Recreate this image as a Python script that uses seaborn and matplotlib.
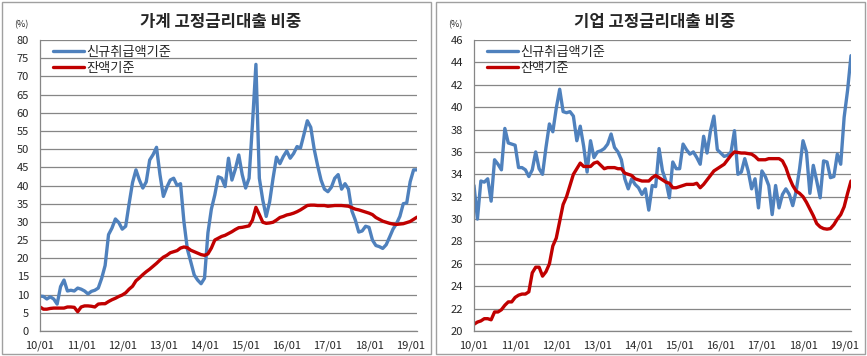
import numpy as np
import pandas as pd
import matplotlib
matplotlib.use('Agg')
import matplotlib.pyplot as plt
import seaborn as sns
from matplotlib.patches import Rectangle

sns.set_style('white')
plt.rcParams['font.family'] = ['Noto Sans CJK KR', 'DejaVu Sans']

# monthly, 2010/01 .. 2019/03
xtick_labels = ['10/01', '11/01', '12/01', '13/01', '14/01', '15/01', '16/01', '17/01', '18/01', '19/01']
new_label = '신규취급액기준'
bal_label = '잔액기준'
titles = ['가계 고정금리대출 비중', '기업 고정금리대출 비중']

hh_new = [9.6, 9.5, 8.8, 9.4, 8.8, 7.4, 12.2, 14.0, 11.0, 11.2, 11.0, 11.8,
          11.5, 11.0, 10.2, 10.9, 11.2, 11.8, 14.5, 18.0, 26.5, 28.3, 30.8, 29.8,
          28.0, 28.8, 35.0, 40.8, 44.3, 41.5, 39.3, 41.0, 47.0, 48.5, 50.5, 43.0,
          37.0, 39.5, 41.5, 42.0, 40.0, 40.5, 30.0, 22.5, 19.0, 15.4, 14.0, 13.0,
          14.5, 27.0, 33.5, 37.4, 42.4, 42.0, 39.7, 47.5, 41.5, 44.5, 48.4, 43.0,
          39.3, 42.0, 57.0, 73.3, 42.0, 36.0, 31.5, 35.5, 42.0, 47.8, 46.0, 48.0,
          49.5, 47.5, 48.8, 50.7, 50.3, 54.0, 57.8, 56.0, 50.0, 45.5, 41.5, 39.0,
          38.3, 39.5, 42.0, 43.0, 39.0, 40.5, 39.0, 33.0, 30.5, 27.2, 27.5, 28.8,
          28.5, 25.0, 23.5, 23.2, 22.7, 23.7, 25.8, 28.0, 29.5, 31.5, 35.0, 35.2,
          41.0, 44.3, 44.3]
hh_bal = [6.6, 6.0, 6.0, 6.2, 6.3, 6.3, 6.3, 6.3, 6.6, 6.6, 6.5, 5.3,
          6.6, 6.9, 6.9, 6.8, 6.6, 7.4, 7.5, 7.5, 8.1, 8.6, 9.0, 9.5,
          9.9, 10.5, 11.5, 12.3, 13.8, 14.6, 15.5, 16.3, 17.0, 17.8, 18.6, 19.5,
          20.3, 20.8, 21.5, 21.8, 22.1, 22.8, 23.1, 22.9, 22.2, 21.8, 21.4, 21.0,
          20.8, 21.2, 22.8, 25.0, 25.5, 26.0, 26.3, 26.8, 27.3, 27.9, 28.4, 28.5,
          28.7, 28.9, 30.5, 34.0, 32.0, 29.9, 29.6, 29.7, 29.9, 30.5, 31.2, 31.5,
          31.9, 32.1, 32.4, 32.8, 33.3, 33.9, 34.5, 34.6, 34.6, 34.5, 34.5, 34.5,
          34.3, 34.4, 34.5, 34.5, 34.5, 34.4, 34.3, 33.9, 33.5, 33.3, 33.0, 32.7,
          32.4, 32.0, 31.2, 30.7, 30.2, 29.9, 29.6, 29.4, 29.3, 29.4, 29.5, 29.8,
          30.1, 30.7, 31.3]
corp_new = [33.0, 30.0, 33.4, 33.3, 33.6, 31.6, 35.3, 34.9, 34.4, 38.1, 36.8, 36.7,
            36.6, 34.6, 34.6, 34.4, 33.8, 34.4, 36.0, 34.5, 34.0, 36.4, 38.5, 37.8,
            39.9, 41.6, 39.6, 39.5, 39.6, 39.2, 37.0, 38.3, 36.5, 34.2, 37.0, 35.5,
            36.0, 36.1, 36.3, 36.7, 37.6, 36.4, 36.0, 35.3, 33.6, 32.7, 33.6, 33.1,
            32.8, 32.2, 32.7, 30.8, 33.0, 32.9, 36.3, 34.3, 33.4, 31.9, 35.1, 34.5,
            34.5, 36.7, 36.2, 35.8, 36.0, 35.5, 34.9, 37.4, 35.9, 37.9, 39.2, 36.2,
            35.9, 35.6, 35.7, 36.0, 37.9, 34.0, 34.2, 35.4, 34.3, 32.7, 33.6, 31.0,
            34.3, 33.8, 33.0, 30.4, 33.0, 31.0, 32.2, 32.7, 32.2, 31.2, 32.5, 34.5,
            37.0, 36.0, 32.3, 34.8, 33.4, 31.9, 35.2, 35.1, 33.7, 33.8, 35.8, 34.9,
            39.1, 41.5, 44.6]
corp_bal = [20.6, 20.8, 20.9, 21.1, 21.1, 21.0, 21.7, 21.7, 21.9, 22.3, 22.6, 22.6,
            23.0, 23.2, 23.3, 23.3, 23.5, 25.2, 25.7, 25.7, 24.9, 25.3, 26.0, 27.6,
            28.3, 29.8, 31.3, 32.0, 33.0, 34.0, 34.5, 35.0, 34.7, 34.7, 34.7, 35.0,
            35.1, 34.8, 34.5, 34.6, 34.6, 34.6, 34.5, 34.5, 34.1, 34.0, 33.9, 33.6,
            33.5, 33.4, 33.4, 33.4, 33.7, 33.9, 33.7, 33.5, 33.3, 33.2, 32.8, 32.8,
            32.9, 33.0, 33.1, 33.1, 33.1, 33.2, 32.8, 33.1, 33.5, 33.9, 34.3, 34.5,
            34.7, 34.9, 35.3, 35.7, 36.0, 35.95, 35.9, 35.9, 35.85, 35.8, 35.6, 35.3,
            35.3, 35.3, 35.4, 35.4, 35.4, 35.4, 35.2, 34.6, 33.7, 33.0, 32.5, 32.3,
            32.0, 31.5, 30.9, 30.3, 29.6, 29.3, 29.15, 29.1, 29.15, 29.5, 30.0, 30.4,
            31.1, 32.3, 33.4]

blue = '#4F81BD'
red = '#C00000'
gray = '#868686'

W, H = 867, 356
fig = plt.figure(figsize=(W / 100, H / 100), dpi=100)

# panel frames
for x0, x1 in [(2, 431), (436, 865)]:
    fig.patches.append(Rectangle((x0 / W, 2 / H), (x1 - x0) / W, (H - 4) / H,
                                 transform=fig.transFigure, fill=False,
                                 edgecolor='#A0A0A0', lw=1))


def draw(left_px, new, bal, title, ylim, ystep, title_x):
    ax = fig.add_axes([left_px / W, 1 - 331 / H, 377 / W, 291 / H])
    df = pd.DataFrame({'m': np.arange(len(new)), new_label: new, bal_label: bal})
    df = df.melt('m', var_name='series', value_name='v')
    sns.lineplot(data=df, x='m', y='v', hue='series', palette=[blue, red],
                 linewidth=2.4, ax=ax)
    ax.set_xlim(0, len(new) - 1)
    ax.set_ylim(*ylim)
    ax.set_yticks(np.arange(ylim[0], ylim[1] + 0.1, ystep))
    ax.set_xticks(np.arange(0, 12 * len(xtick_labels), 12))
    ax.set_xticklabels(xtick_labels)
    ax.set_xlabel('')
    ax.set_ylabel('')
    ax.yaxis.grid(True, color=gray, lw=0.9)
    ax.set_axisbelow(True)
    for s in ['top', 'right']:
        ax.spines[s].set_visible(False)
    for s in ['left', 'bottom']:
        ax.spines[s].set_color(gray)
        ax.spines[s].set_linewidth(0.9)
    ax.tick_params(axis='x', direction='out', length=4, color=gray, labelsize=8, pad=3)
    ax.tick_params(axis='y', direction='out', length=3, color=gray, labelsize=8, pad=5)
    ax.legend(loc='upper left', bbox_to_anchor=(0.034, 0.98), frameon=False,
              fontsize=9.5, handlelength=2.4, handletextpad=0.12,
              labelspacing=0.22, borderpad=0, borderaxespad=0)
    fig.text(title_x / W, 1 - 22 / H, title, ha='center', va='center',
             fontsize=12, fontweight='bold')
    fig.text((left_px - 19) / W, 1 - 25 / H, '(%)', ha='center', va='center', fontsize=6.5)
    return ax


draw(40, hh_new, hh_bal, titles[0], (0, 80), 5, 221)
draw(474, corp_new, corp_bal, titles[1], (20, 46), 2, 655)

fig.savefig('out.png', dpi=100)
